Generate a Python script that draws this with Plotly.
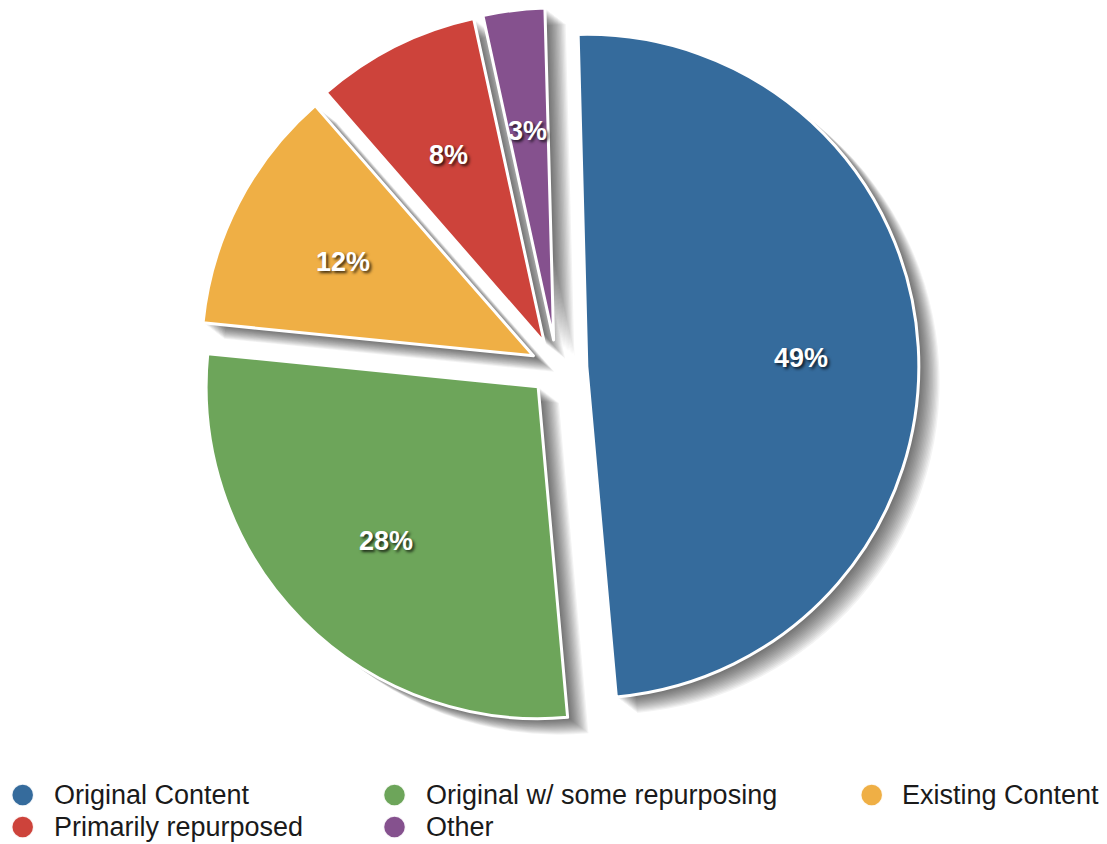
import math
import plotly.graph_objects as go

# Content source breakdown (percent of respondents)
categories = [
    "Original Content",
    "Original w/ some repurposing",
    "Existing Content",
    "Primarily repurposed",
    "Other",
]
shares = [49, 28, 12, 8, 3]
colors = ["#356B9C", "#6DA55A", "#EFAF45", "#CD433B", "#85518E"]

# Figure / pie geometry (pixels)
W, H = 1107, 844
PULLS = [0.09, 0.08, 0.08, 0.085, 0.085]
ROTATION = -1.5
CX, CY = 557, 368
R = 332
HALF = R * (1 + max(PULLS))     # half of the pie box so plotly yields radius R
DOM_X = [(CX - 420) / W, (CX + 420) / W]
DOM_Y = [(H - CY - HALF) / H, (H - CY + HALF) / H]

FONT = "Liberation Sans, Arial, Helvetica, sans-serif"

fig = go.Figure()

# Soft drop shadow: stacked translucent copies of the pie, offset down-right
N_SHADOW = 16
for k in range(N_SHADOW, 0, -1):
    dx, dy = 1.3 * k, 1.0 * k
    fig.add_trace(go.Pie(
        labels=categories,
        values=shares,
        sort=False,
        direction="clockwise",
        rotation=ROTATION,
        pull=PULLS,
        marker=dict(colors=["rgba(0,0,0,0.047)"] * len(shares), line=dict(width=0)),
        textinfo="none",
        hoverinfo="skip",
        showlegend=False,
        domain=dict(x=[DOM_X[0] + dx / W, DOM_X[1] + dx / W],
                    y=[DOM_Y[0] - dy / H, DOM_Y[1] - dy / H]),
    ))

# Main exploded pie
fig.add_trace(go.Pie(
    labels=categories,
    values=shares,
    sort=False,
    direction="clockwise",
    rotation=ROTATION,
    pull=PULLS,
    marker=dict(colors=colors, line=dict(color="white", width=3)),
    textinfo="none",
    hovertemplate="%{label}: %{value}%<extra></extra>",
    showlegend=False,
    domain=dict(x=DOM_X, y=DOM_Y),
))

# Percentage labels, placed along each slice's mid-angle
annotations = []
total = sum(shares)
LABEL_R = 0.645
LABEL_DY = 4
cum = 0.0
for v, p in zip(shares, PULLS):
    mid = math.radians(ROTATION + 360.0 * (cum + v / 2.0) / total)
    cum += v
    px = CX + (p + LABEL_R) * R * math.sin(mid)
    py = CY + LABEL_DY - (p + LABEL_R) * R * math.cos(mid)
    annotations.append(dict(
        x=px / W, y=1 - py / H, xref="paper", yref="paper",
        text=f"{v}%", showarrow=False, xanchor="center", yanchor="middle",
        font=dict(family=FONT, size=27, color="white", weight="bold",
                  shadow="2px 2px 3px rgba(0,0,0,0.75)"),
    ))

# Legend: three columns, two rows
ROW_Y = [795, 827]
MARK_X = [22.7, 394.5, 871.7]
TEXT_X = [52, 424, 900]
shapes = []
for i, (name, col) in enumerate(zip(categories, colors)):
    row, c = divmod(i, 3)
    yp = 1 - ROW_Y[row] / H
    shapes.append(dict(
        type="circle", xref="paper", yref="paper",
        xsizemode="pixel", ysizemode="pixel",
        xanchor=MARK_X[c] / W, yanchor=yp,
        x0=-11, x1=11, y0=-11, y1=11,
        fillcolor=col, line=dict(color="rgba(255,255,255,0.9)", width=1.5),
    ))
    annotations.append(dict(
        x=TEXT_X[c] / W, y=yp, xref="paper", yref="paper",
        text=name, showarrow=False, xanchor="left", yanchor="middle",
        font=dict(family=FONT, size=27, color="#1a1a1a"),
    ))

fig.update_layout(
    width=W, height=H,
    margin=dict(l=0, r=0, t=0, b=0),
    paper_bgcolor="white",
    plot_bgcolor="white",
    showlegend=False,
    annotations=annotations,
    shapes=shapes,
)

fig.write_html("out.html")
